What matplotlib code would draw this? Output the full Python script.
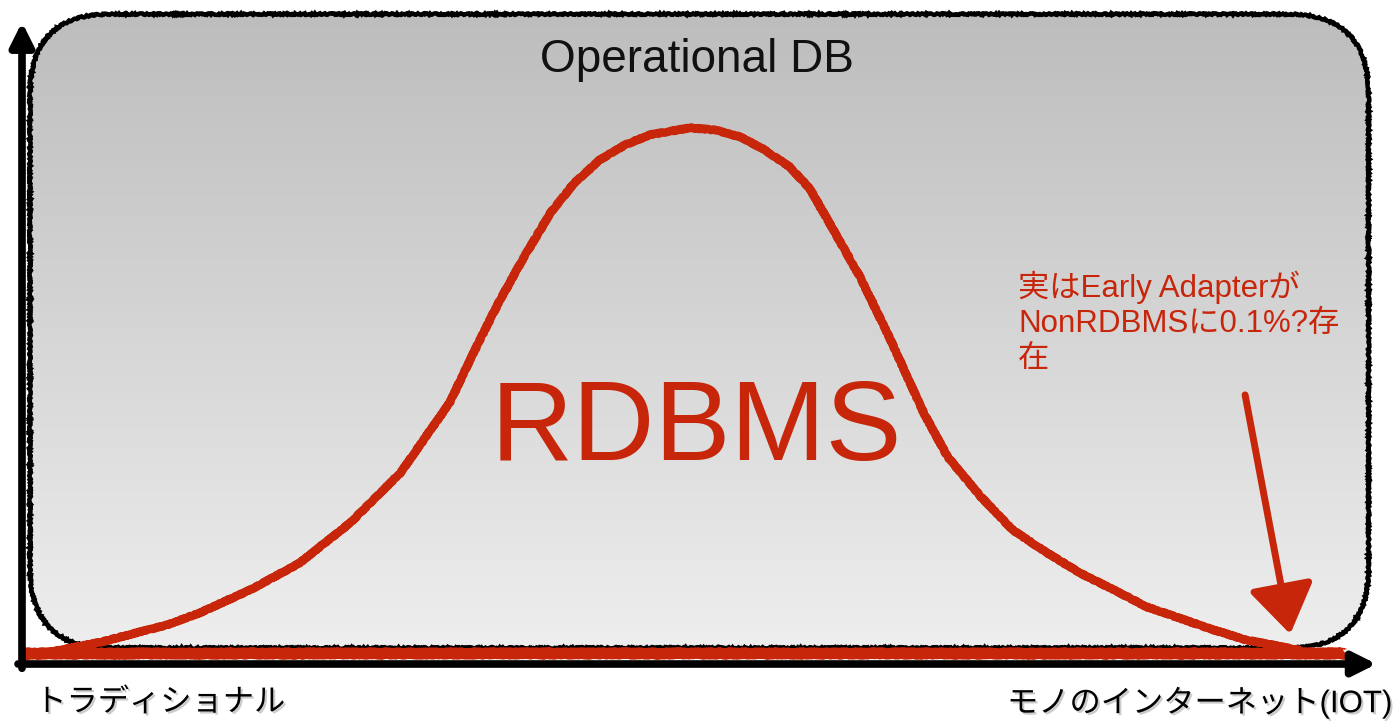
import numpy as np
import matplotlib
matplotlib.use("Agg")
import matplotlib.pyplot as plt
import matplotlib.patheffects as pe
from matplotlib.patches import FancyBboxPatch
from matplotlib.colors import LinearSegmentedColormap

# bell curve (x: traditional -> IoT, y: share, peak ~100)
curve_x = [0.2, 2.9, 5.9, 10.9, 13.4, 17.2, 20.9, 24.7, 28.5, 32.2, 34.1, 36.0,
           37.9, 39.8, 41.6, 43.5, 45.4, 47.3, 50.3, 52.2, 54.1, 55.9, 57.8,
           59.3, 60.8, 63.1, 64.2, 65.4, 67.9, 69.7, 72.1, 74.6, 77.2, 79.7,
           82.2, 84.7, 89.7, 92.2, 96.2]
curve_y = [1.5, 2.6, 4.1, 7.3, 9.6, 13.9, 18.9, 26.4, 35.8, 48.9, 58.8, 68.2,
           76.6, 84.5, 90.1, 94.4, 97.2, 99.1, 100.4, 100.0, 98.7, 96.3, 93.1,
           89.1, 82.6, 72.5, 66.9, 60.7, 47.0, 38.8, 31.6, 25.1, 20.8, 17.0,
           13.9, 10.7, 6.4, 4.5, 2.6]

# flat NonRDBMS line along the bottom
base_x = [-0.15, 99.6]
base_y = [2.1, 2.1]

title = "Operational DB"
big_label = "RDBMS"
note = "実はEarly Adapterが\nNonRDBMSに0.1%?存\n在"
left_label = "トラディショナル"
right_label = "モノのインターネット(IOT)"

red = "#c8260b"
jp = ["Liberation Sans", "Noto Sans CJK JP", "DejaVu Sans"]

# pixel scale of the picture
px_x = 13.28
px_y = 5.34
ox, oy = 22, 664

fig = plt.figure(figsize=(13.98, 7.21), dpi=100)
ax = fig.add_axes([0, 0, 1, 1])
ax.axis("off")

# rounded grey box with gradient (darker at top)
box = FancyBboxPatch((0.6, 3.0), 100.8, 118.7,
                     boxstyle="round,pad=0,rounding_size=6.0",
                     mutation_aspect=px_x / px_y,
                     facecolor="none", edgecolor="black", lw=3.2, zorder=3)
ax.add_patch(box)
box.set_sketch_params(scale=0.8, length=3, randomness=4)
grad = np.linspace(0, 1, 256).reshape(-1, 1)
cmap = LinearSegmentedColormap.from_list("g", ["#bdbdbd", "#eeeeee"])
im = ax.imshow(grad, extent=[0.6, 101.4, 3.0, 121.7], aspect="auto",
               cmap=cmap, zorder=1, interpolation="bilinear", origin="upper")
im.set_clip_path(box)

# axes arrows
ax.annotate("", xy=(0, 120.2), xytext=(0, -0.8),
            arrowprops=dict(arrowstyle="-|>,head_length=0.7,head_width=0.35",
                            lw=5.5, color="black", shrinkA=0, shrinkB=0,
                            mutation_scale=20), zorder=6)
ax.annotate("", xy=(102.0, 0), xytext=(-0.3, 0),
            arrowprops=dict(arrowstyle="-|>,head_length=0.7,head_width=0.35",
                            lw=5.5, color="black", shrinkA=0, shrinkB=0,
                            mutation_scale=20), zorder=6)

# red lines
ln, = ax.plot(curve_x, curve_y, color=red, lw=6, solid_capstyle="round",
              solid_joinstyle="round", zorder=5)
ln.set_sketch_params(scale=0.5, length=3, randomness=3)
bl, = ax.plot(base_x, base_y, color=red, lw=8, solid_capstyle="butt", zorder=5)
bl.set_sketch_params(scale=0.6, length=3, randomness=3)

# annotation arrow
ax.annotate("", xy=(95.5, 5.6), xytext=(92.1, 50.4),
            arrowprops=dict(arrowstyle="-|>,head_length=1.5,head_width=1.0",
                            lw=5, color=red, shrinkA=0, shrinkB=0,
                            mutation_scale=20), zorder=5)

# texts
ax.text(50.8, 113.2, title, ha="center", va="center", fontsize=33,
        family="Liberation Sans", color="#111111", zorder=4)
ax.text(50.8, 43.6, big_label, ha="center", va="center", fontsize=82,
        family="Liberation Sans", color=red, zorder=4)
ax.text(75.0, 73.6, note, ha="left", va="top", fontsize=22.5, family=jp,
        color=red, linespacing=1.2, zorder=4)

shadow = [pe.SimplePatchShadow(offset=(1.5, -1.5), shadow_rgbFace="gray", alpha=0.4),
          pe.Normal()]
ax.text(1.0, -7.3, left_label, ha="left", va="center", fontsize=22.5, family=jp,
        color="black", path_effects=shadow)
ax.text(103.2, -7.3, right_label, ha="right", va="center", fontsize=22.5, family=jp,
        color="black", path_effects=shadow)

ax.set_xlim(-ox / px_x, (1398 - ox) / px_x)
ax.set_ylim(-(721 - oy) / px_y, oy / px_y)

fig.savefig("out.png", dpi=100)
